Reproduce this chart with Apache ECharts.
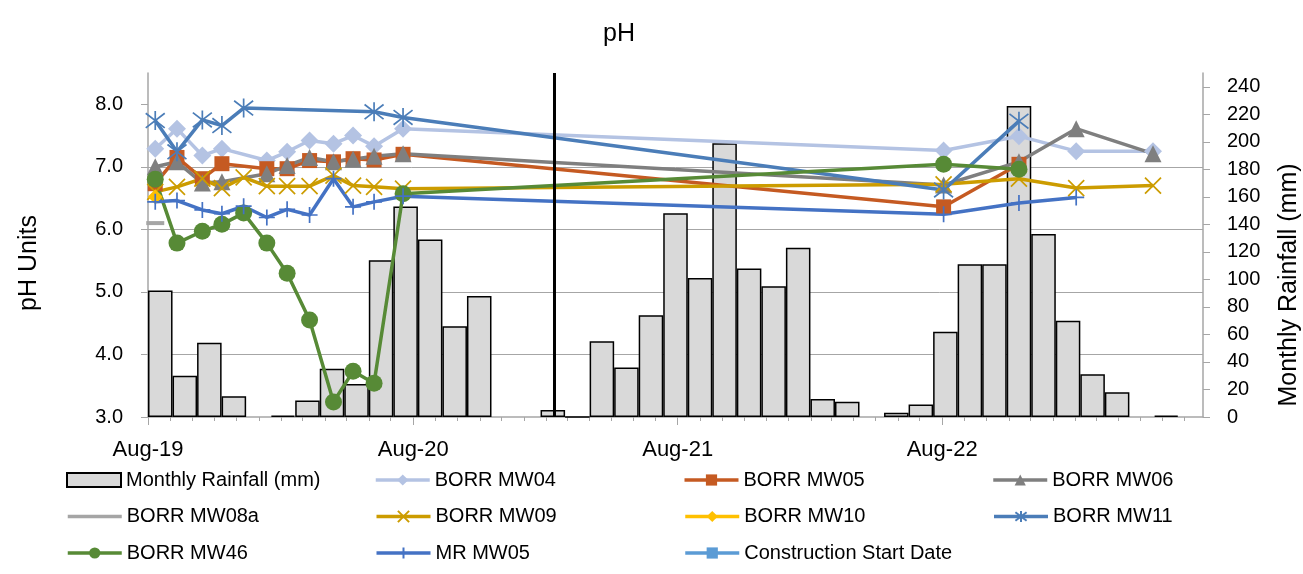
<!DOCTYPE html>
<html>
<head>
<meta charset="utf-8">
<title>pH</title>
<script src="https://cdn.jsdelivr.net/npm/echarts@6/dist/echarts.min.js"></script>
<style>
  html, body { margin: 0; padding: 0; background: #ffffff; overflow: hidden; }
  #chart { width: 1303px; height: 574px; }
</style>
</head>
<body>
<div id="chart"></div>
<script>
// ---- Groundwater sampling rounds ----
const sampleDates = [
  '2019-08-11', '2019-09-10', '2019-10-15', '2019-11-11', '2019-12-11', '2020-01-12',
  '2020-02-09', '2020-03-11', '2020-04-13', '2020-05-10', '2020-06-08', '2020-07-18',
  '2022-08-03', '2022-11-15', '2023-02-02', '2023-05-19'
];

// ---- pH per monitoring well (null = not sampled) ----
const borrMW04 = [7.29, 7.61, 7.18, 7.29, null, 7.10, 7.24, 7.42, 7.37, 7.50, 7.33, 7.61, 7.26, 7.49, 7.25, 7.25];
const borrMW05 = [6.73, 7.15, 6.81, 7.05, null, 6.97, 6.97, 7.10, 7.08, 7.13, 7.11, 7.20, 6.36, 7.04, null, null];
const borrMW06 = [7.00, 7.08, 6.74, 6.76, null, 6.89, 7.02, 7.15, 7.08, 7.12, 7.17, 7.21, 6.71, 7.08, 7.61, 7.21];
const borrMW08a = [6.10, null, null, null, null, null, null, null, null, null, null, null, null, null, null, null];
const borrMW09 = [6.60, 6.68, 6.81, 6.66, 6.83, 6.69, 6.69, 6.69, 6.86, 6.70, 6.68, 6.65, 6.72, 6.81, 6.66, 6.70];
const borrMW10 = [6.52, null, null, null, null, null, null, null, null, null, null, null, null, null, null, null];
const borrMW11 = [7.74, 7.24, 7.75, 7.66, 7.94, null, null, null, null, null, 7.88, 7.79, 6.63, 7.73, null, null];
const borrMW46 = [6.80, 5.78, 5.97, 6.08, 6.26, 5.78, 5.30, 4.55, 3.24, 3.73, 3.54, 6.57, 7.04, 6.96, null, null];
const mrMW05   = [6.44, 6.46, 6.31, 6.25, 6.37, 6.19, 6.32, 6.23, 6.81, 6.36, 6.44, 6.53, 6.24, 6.42, 6.51, null];

const constructionStart = '2021-02-12';

// ---- Monthly rainfall (mm) ----
const rainfallMonths = [
  'Aug-19', 'Sep-19', 'Oct-19', 'Nov-19', 'Dec-19', 'Jan-20', 'Feb-20', 'Mar-20', 'Apr-20', 'May-20', 'Jun-20', 'Jul-20',
  'Aug-20', 'Sep-20', 'Oct-20', 'Nov-20', 'Dec-20', 'Jan-21', 'Feb-21', 'Mar-21', 'Apr-21', 'May-21', 'Jun-21', 'Jul-21',
  'Aug-21', 'Sep-21', 'Oct-21', 'Nov-21', 'Dec-21', 'Jan-22', 'Feb-22', 'Mar-22', 'Apr-22', 'May-22', 'Jun-22', 'Jul-22',
  'Aug-22', 'Sep-22', 'Oct-22', 'Nov-22', 'Dec-22', 'Jan-23', 'Feb-23'
];
const rainfall = [
  92, 30, 54, 15, null, 1, 12, 35, 24, 114, 153, 129,
  66, 88, null, null, 5, 0, 55, 36, 74, 148, 101, 199,
  108, 95, 123, 13, 11, null, 3, 9, 62, 111, 111, 226,
  133, 70, 31, 18, null, 1, null
];

// ---- Axis ticks ----
const pHTicks = [3, 4, 5, 6, 7, 8];
const rainTicks = [0, 20, 40, 60, 80, 100, 120, 140, 160, 180, 200, 220, 240];
const yearTickDates = ['2019-08-01', '2020-08-01', '2021-08-01', '2022-08-01'];
const axisStart = '2019-08-01';
const axisEnd = '2023-07-27';

// ---- Legend rows ----
const legendRows = [
  ['Monthly Rainfall (mm)', 'BORR MW04', 'BORR MW05', 'BORR MW06'],
  ['BORR MW08a', 'BORR MW09', 'BORR MW10', 'BORR MW11'],
  ['BORR MW46', 'MR MW05', 'Construction Start Date']
];

const MONTHS = ['Jan', 'Feb', 'Mar', 'Apr', 'May', 'Jun', 'Jul', 'Aug', 'Sep', 'Oct', 'Nov', 'Dec'];
function ts(s) {
  const p = s.split('-').map(Number);
  return Date.UTC(p[0], p[1] - 1, p[2]);
}
function monthLabel(v) {
  const d = new Date(v);
  return MONTHS[d.getUTCMonth()] + '-' + String(d.getUTCFullYear()).slice(2);
}

const T0 = ts(axisStart);
const T1 = ts(axisEnd);
const monthTicks = [];
for (let y = 2019, m = 7; ; m++) {
  if (m > 11) { m = 0; y++; }
  const t = Date.UTC(y, m, 1);
  if (t > T1) break;
  monthTicks.push(t);
}
const yearTicks = yearTickDates.map(ts);

const FONT = "'Liberation Sans', Arial, sans-serif";
const AXIS_GREY = '#A6A6A6';

const SYM_X = 'path://M0,0L10,10M10,0L0,10';
const SYM_STAR = 'path://M0,0L10,10M10,0L0,10M5,-1.5L5,11.5';
const SYM_PLUS = 'path://M5,0L5,10M0,5L10,5';

function points(values) {
  return sampleDates
    .map((d, i) => [ts(d), values[i]])
    .filter(p => p[1] !== null);
}

function wellSeries(name, values, color, symbol, size, stroked) {
  return {
    name: name,
    type: 'line',
    xAxisIndex: 0,
    yAxisIndex: 0,
    data: points(values),
    symbol: symbol,
    symbolSize: size,
    showAllSymbol: true,
    lineStyle: { color: color, width: 3.5 },
    itemStyle: stroked
      ? { color: 'rgba(0,0,0,0)', borderColor: color, borderWidth: 1.7 }
      : { color: color, borderWidth: 0 },
    emphasis: { disabled: true },
    z: 3
  };
}

const series = [
  {
    name: 'Monthly Rainfall (mm)',
    type: 'bar',
    xAxisIndex: 2,
    yAxisIndex: 1,
    data: rainfall,
    barWidth: '100%',
    itemStyle: { color: '#D9D9D9', borderColor: '#000000', borderWidth: 1.5 },
    emphasis: { disabled: true },
    z: 2
  },
  wellSeries('BORR MW04', borrMW04, '#B4C3E3', 'diamond', 18, false),
  wellSeries('BORR MW05', borrMW05, '#C55A22', 'rect', 15, false),
  wellSeries('BORR MW06', borrMW06, '#7F7F7F', 'triangle', 17, false),
  {
    name: 'BORR MW08a',
    type: 'line',
    xAxisIndex: 0,
    yAxisIndex: 0,
    data: points(borrMW08a).map(p => ({ value: p, symbol: 'rect', symbolSize: [18, 4] })),
    symbol: 'none',
    lineStyle: { color: '#A5A5A5', width: 3.5 },
    itemStyle: { color: '#A5A5A5' },
    emphasis: { disabled: true },
    z: 3
  },
  wellSeries('BORR MW09', borrMW09, '#CC9C00', SYM_X, 16, true),
  wellSeries('BORR MW10', borrMW10, '#FFC000', 'diamond', 15, false),
  wellSeries('BORR MW11', borrMW11, '#4B7DB8', SYM_STAR, 19, true),
  wellSeries('BORR MW46', borrMW46, '#578A36', 'circle', 17, false),
  wellSeries('MR MW05', mrMW05, '#4472C4', SYM_PLUS, 16, true),
  {
    name: 'Construction Start Date',
    type: 'line',
    xAxisIndex: 0,
    yAxisIndex: 0,
    data: [
      { value: [ts(constructionStart), 3], symbol: 'none' },
      { value: [ts(constructionStart), 8.5], symbol: 'none' }
    ],
    symbol: 'rect',
    symbolSize: 10,
    lineStyle: { color: '#000000', width: 3 },
    itemStyle: { color: '#5B9BD5' },
    emphasis: { disabled: true },
    z: 4
  }
];

// per-item legend tweaks
const legendItemOverrides = {
  'Monthly Rainfall (mm)': { icon: 'rect' },
  'BORR MW08a': { itemStyle: { opacity: 0 } },
  'Construction Start Date': { lineStyle: { color: '#5B9BD5' } }
};

const legendRowTops = [470, 506.5, 543];
const legends = legendRows.map((row, r) => ({
  orient: 'horizontal',
  left: 66,
  top: legendRowTops[r],
  padding: 0,
  itemWidth: 54,
  itemHeight: 14,
  itemGap: 18,
  selectedMode: false,
  lineStyle: { width: 3.5 },
  textStyle: { fontFamily: FONT, fontSize: 20, color: '#000000', width: 230, lineHeight: 20, overflow: 'none' },
  data: row.map(name => Object.assign({ name: name }, legendItemOverrides[name] || {}))
}));

const option = {
  animation: false,
  backgroundColor: '#ffffff',
  title: {
    text: 'pH',
    left: 614,
    top: 17,
    textAlign: 'center',
    textStyle: { fontFamily: FONT, fontSize: 25, fontWeight: 'normal', color: '#000000' }
  },
  grid: { left: 148, right: 100, top: 73, bottom: 157, containLabel: false, outerBoundsMode: 'none' },
  legend: legends,
  xAxis: [
    {
      type: 'value',
      position: 'bottom',
      min: T0,
      max: T1,
      axisLine: { show: true, onZero: false, lineStyle: { color: AXIS_GREY, width: 1.5 } },
      axisTick: { show: true, customValues: monthTicks, length: 4, lineStyle: { color: AXIS_GREY, width: 1 } },
      axisLabel: {
        customValues: yearTicks,
        formatter: monthLabel,
        margin: 22,
        color: '#000000',
        fontFamily: FONT,
        fontSize: 22
      },
      splitLine: { show: false }
    },
    {
      type: 'value',
      position: 'bottom',
      min: T0,
      max: T1,
      axisLine: { show: false },
      axisTick: { show: true, customValues: yearTicks, length: 8, lineStyle: { color: AXIS_GREY, width: 1 } },
      axisLabel: { show: false },
      splitLine: { show: false }
    },
    {
      type: 'category',
      position: 'bottom',
      data: rainfallMonths,
      boundaryGap: true,
      show: false
    }
  ],
  yAxis: [
    {
      type: 'value',
      position: 'left',
      min: 3,
      max: 8.5,
      interval: 1,
      name: 'pH Units',
      nameLocation: 'middle',
      nameGap: 106,
      nameRotate: 90,
      nameTextStyle: { fontFamily: FONT, fontSize: 25, color: '#000000', padding: [0, 36, 0, 0] },
      axisLine: { show: true, lineStyle: { color: AXIS_GREY, width: 1.5 } },
      axisTick: { show: true, customValues: pHTicks, length: 7, lineStyle: { color: AXIS_GREY, width: 1 } },
      axisLabel: {
        customValues: pHTicks,
        formatter: v => v.toFixed(1),
        margin: 25,
        color: '#000000',
        fontFamily: FONT,
        fontSize: 20
      },
      splitLine: { show: true, showMaxLine: false, showMinLine: false, lineStyle: { color: AXIS_GREY, width: 1 } }
    },
    {
      type: 'value',
      position: 'right',
      min: 0,
      max: 250,
      interval: 20,
      name: 'Monthly Rainfall (mm)',
      nameLocation: 'middle',
      nameGap: 74,
      nameRotate: 90,
      nameTextStyle: { fontFamily: FONT, fontSize: 25, color: '#000000', padding: [0, 80, 0, 0] },
      axisLine: { show: true, lineStyle: { color: AXIS_GREY, width: 1.5 } },
      axisTick: { show: true, customValues: rainTicks, length: 7, lineStyle: { color: AXIS_GREY, width: 1 } },
      axisLabel: {
        customValues: rainTicks,
        margin: 24,
        color: '#000000',
        fontFamily: FONT,
        fontSize: 20
      },
      splitLine: { show: false }
    }
  ],
  series: series
};

const chart = echarts.init(document.getElementById('chart'), null, { renderer: 'canvas' });
chart.setOption(option);
</script>
</body>
</html>
